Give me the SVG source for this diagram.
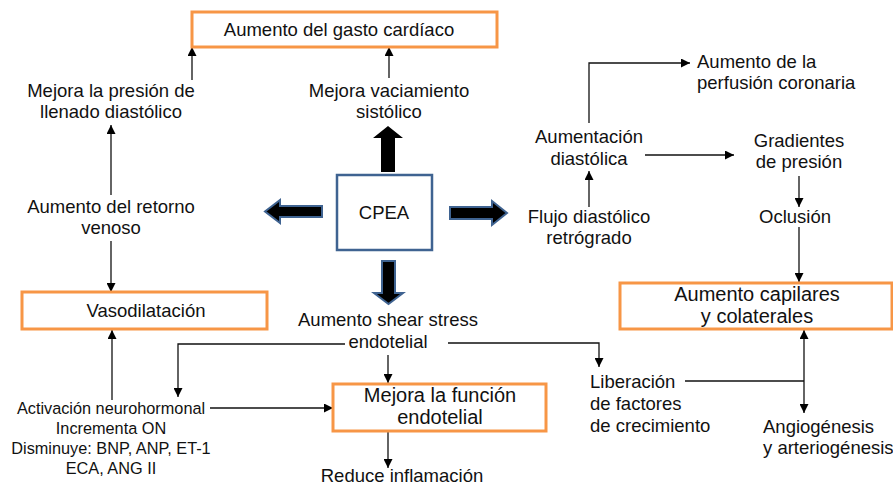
<svg xmlns="http://www.w3.org/2000/svg" width="893" height="485" viewBox="0 0 893 485">
<defs>
<marker id="ah" viewBox="0 0 10 10" refX="10" refY="5" markerWidth="9" markerHeight="9" markerUnits="userSpaceOnUse" orient="auto-start-reverse">
<path d="M0,0 L10,5 L0,10 z" fill="#000"/>
</marker>
<style>
text{font-family:"Liberation Sans",Arial,sans-serif;font-size:18.5px;fill:#111;}
.c{text-anchor:middle;}
.s{font-size:16.3px;}
.l{font-size:20px;}
.ob{fill:#fff;stroke:#f79646;stroke-width:3;}
.bb{fill:#fff;stroke:#3f6391;stroke-width:2.5;}
.ln{fill:none;stroke:#111;stroke-width:1.3;}
.ar{marker-end:url(#ah);}
.blk{fill:#000;stroke:#3f6391;stroke-width:2;stroke-linejoin:miter;}
</style>
</defs>
<rect width="893" height="485" fill="#fff"/>

<g id="connectors">
<path class="ln ar" d="M192,80 V47"/>
<path class="ln ar" d="M389,78 V47"/>
<path class="ln ar" d="M111,195 V125"/>
<path class="ln ar" d="M111,241 V292"/>
<path class="ln ar" d="M112,400 V330"/>
<path class="ln ar" d="M210,408 H333"/>
<path class="ln ar" d="M345,344 H178 V397"/>
<path class="ln ar" d="M448,343 H599 V367"/>
<path class="ln ar" d="M388,355 V383"/>
<path class="ln ar" d="M388,432 V468"/>
<path class="ln ar" d="M589,123 V63 H690"/>
<path class="ln ar" d="M645,155 H734"/>
<path class="ln ar" d="M589,207 V171"/>
<path class="ln ar" d="M799,176 V207"/>
<path class="ln ar" d="M799,227 V282"/>
<path class="ln ar" d="M804,381 V330"/>
<path class="ln ar" d="M804,381 V413"/>
<path class="ln" d="M685,381 H804"/>
<path d="M381,172 V138 H373 L388,126 L403,138 H395 V172 z" fill="#000"/>
<path class="blk" d="M322,206 H280 V200 L265,211.5 L280,223 V217 H322 z"/>
<path class="blk" d="M450,207 H492 V201 L507,213 L492,225 V219 H450 z"/>
<path class="blk" d="M382,261 H395 V293 H403 L388.5,304 L374,293 H382 z"/>
</g>

<g id="gasto">
<rect class="ob" x="192" y="12" width="305" height="35"/>
<text class="c" x="339" y="36">Aumento del gasto cardíaco</text>
</g>
<g id="presion">
<text class="c" x="111" y="97">Mejora la presión de</text>
<text class="c" x="111" y="118">llenado diastólico</text>
</g>
<g id="vaciamiento">
<text class="c" x="389" y="97">Mejora vaciamiento</text>
<text class="c" x="389" y="118">sistólico</text>
</g>
<g id="retorno">
<text class="c" x="111" y="213">Aumento del retorno</text>
<text class="c" x="111" y="234">venoso</text>
</g>
<g id="cpea">
<rect class="bb" x="337" y="175" width="95" height="75"/>
<text class="c" x="384" y="219">CPEA</text>
</g>
<g id="vasodilatacion">
<rect class="ob" x="22" y="292" width="245" height="37"/>
<text class="c" x="146" y="317">Vasodilatación</text>
</g>
<g id="shear">
<text class="c" x="388" y="326">Aumento shear stress</text>
<text class="c" x="388" y="348">endotelial</text>
</g>
<g id="activacion">
<text class="c s" x="111" y="414">Activación neurohormonal</text>
<text class="c s" x="111" y="434">Incrementa ON</text>
<text class="c s" x="111" y="454">Disminuye: BNP, ANP, ET-1</text>
<text class="c s" x="111" y="474">ECA, ANG II</text>
</g>
<g id="funcion">
<rect class="ob" x="333" y="384" width="213" height="47"/>
<text class="c l" x="440" y="402">Mejora la función</text>
<text class="c l" x="440" y="424">endotelial</text>
</g>
<g id="inflamacion">
<text class="c" x="402" y="482">Reduce inflamación</text>
</g>
<g id="perfusion">
<text x="697" y="68">Aumento de la</text>
<text x="697" y="89">perfusión coronaria</text>
</g>
<g id="aumentacion">
<text class="c" x="589" y="143">Aumentación</text>
<text class="c" x="589" y="165">diastólica</text>
</g>
<g id="gradientes">
<text class="c" x="799" y="147">Gradientes</text>
<text class="c" x="799" y="168">de presión</text>
</g>
<g id="flujo">
<text class="c" x="589" y="223">Flujo diastólico</text>
<text class="c" x="589" y="244">retrógrado</text>
</g>
<g id="oclusion">
<text class="c" x="795" y="223">Oclusión</text>
</g>
<g id="capilares">
<rect class="ob" x="620" y="283" width="272" height="46"/>
<text class="c l" x="757" y="301">Aumento capilares</text>
<text class="c l" x="757" y="323">y colaterales</text>
</g>
<g id="liberacion">
<text x="590" y="388">Liberación</text>
<text x="590" y="410">de factores</text>
<text x="590" y="432">de crecimiento</text>
</g>
<g id="angiogenesis">
<text x="763" y="433">Angiogénesis</text>
<text x="763" y="454">y arteriogénesis</text>
</g>
</svg>
